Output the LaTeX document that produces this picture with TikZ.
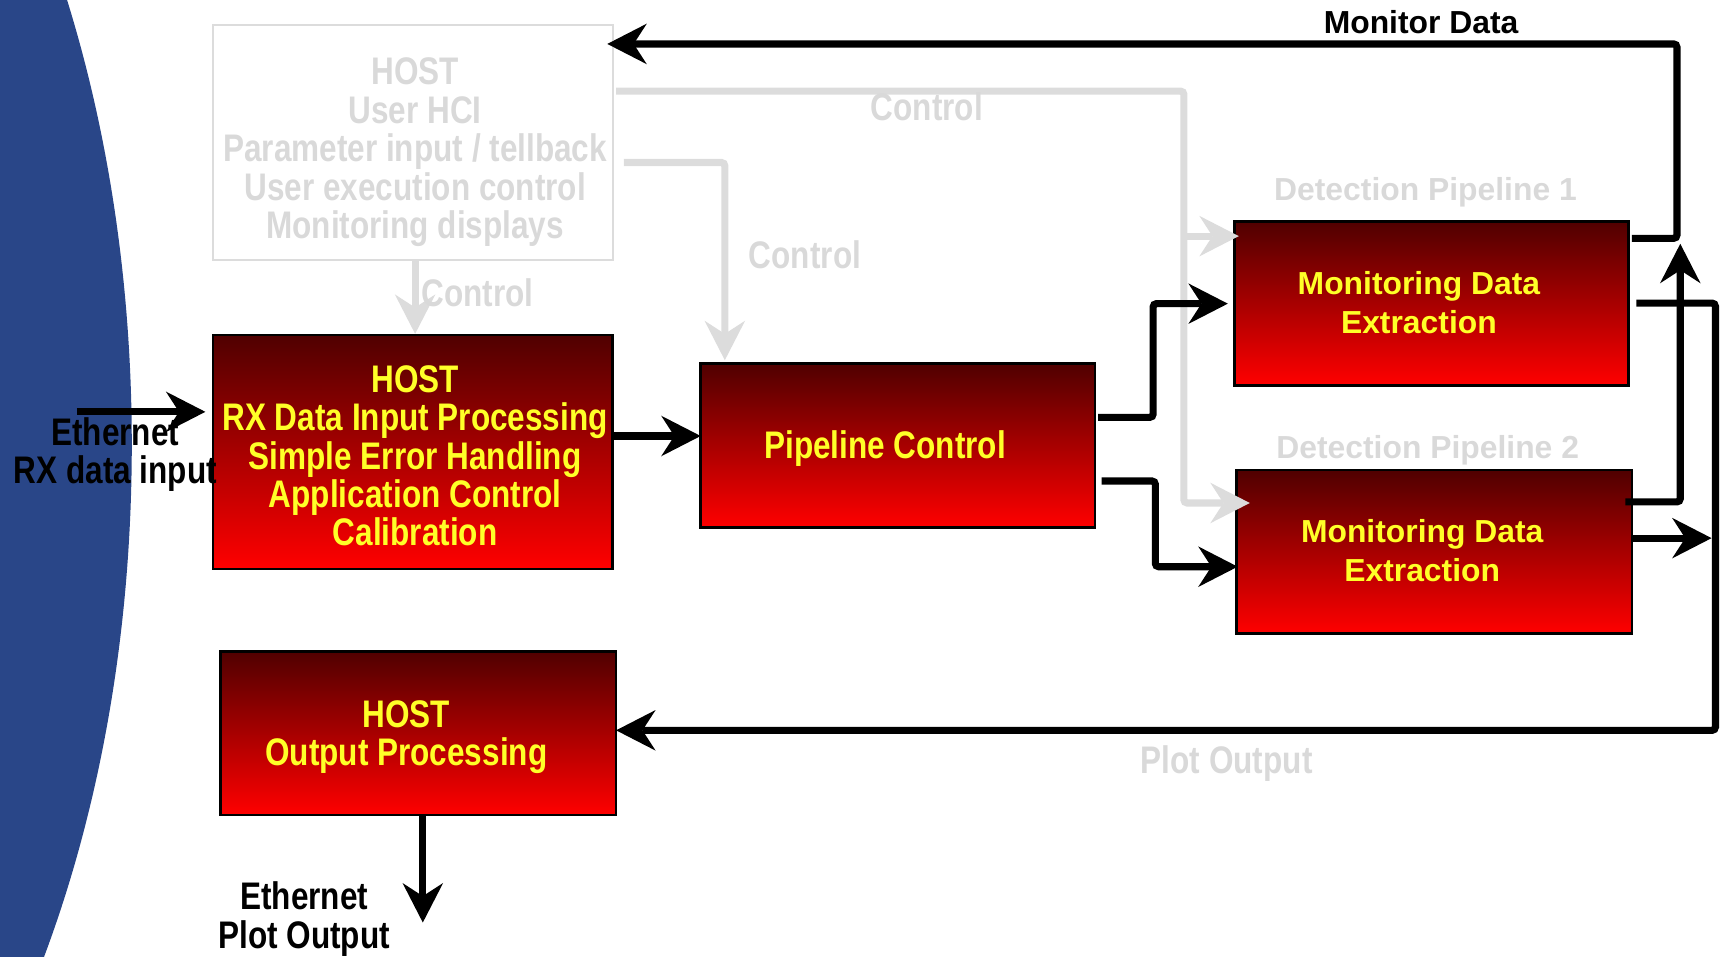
\documentclass[tikz,border=0pt]{standalone}
\usepackage{fontspec}
\setmainfont{Liberation Sans}
\newfontfamily\narrowfont[FakeStretch=0.82]{Liberation Sans}
\usetikzlibrary{arrows.meta,calc}

\definecolor{bgblue}{RGB}{41,70,136}
\definecolor{ctrlgray}{RGB}{220,220,220}
\definecolor{txtgray}{RGB}{217,217,217}
\definecolor{boxtop}{RGB}{80,0,0}
\definecolor{boxbot}{RGB}{255,0,0}
\definecolor{boxyellow}{RGB}{255,255,40}

\tikzset{
  flowbox/.style={rectangle, draw=black, line width=2.5pt, top color=boxtop,
    bottom color=boxbot, inner sep=0pt, outer sep=0pt},
  hcibox/.style={rectangle, draw=ctrlgray, line width=2pt, inner sep=0pt, outer sep=0pt},
  narrowtxt/.style={font=\narrowfont\bfseries\fontsize{35pt}{35pt}\selectfont,
    align=center, inner sep=0pt},
  widetxt/.style={font=\bfseries\fontsize{29pt}{35pt}\selectfont,
    align=center, inner sep=0pt},
  bigtip/.style={-{Stealth[length=36pt,width=37pt,inset=12pt,line width=0pt]}},
  datalink/.style={draw=black, line width=6.5pt, rounded corners=3pt},
  ctrllink/.style={draw=ctrlgray, line width=6.5pt, rounded corners=3pt},
}

\begin{document}
\begin{tikzpicture}[x=1pt, y=-1pt]
\useasboundingbox (0,0) rectangle (1568,871);

% background arc on the left
\begin{scope}
  \clip (0,0) rectangle (1568,871);
  \fill[bgblue] (-400,405) ellipse [x radius=520, y radius=875];
\end{scope}

% blocks
\node[hcibox, minimum width=364pt, minimum height=214pt] (hci) at (376,130) {};
\node[flowbox, minimum width=364pt, minimum height=213pt] (hostin) at (376,411.5) {};
\node[flowbox, minimum width=359pt, minimum height=149pt] (pipe) at (817.5,405.5) {};
\node[flowbox, minimum width=359pt, minimum height=149pt] (mde1) at (1303.5,276.5) {};
\node[flowbox, minimum width=360pt, minimum height=149pt] (mde2) at (1306,502.5) {};
\node[flowbox, minimum width=360pt, minimum height=149pt] (hostout) at (381,667.5) {};

% block texts
\node[narrowtxt, text=txtgray] (hcitext) at (378,138.7)
  {HOST\\User HCI\\Parameter input / tellback\\User execution control\\Monitoring displays};
\node[narrowtxt, text=boxyellow] (hostintext) at (378,415)
  {HOST\\RX Data Input Processing\\Simple Error Handling\\Application Control\\Calibration};
\node[narrowtxt, text=boxyellow] (pipetext) at (806,408.5) {Pipeline Control};
\node[widetxt, text=boxyellow] (mde1text) at (1292,275.4) {Monitoring Data\\Extraction};
\node[widetxt, text=boxyellow] (mde2text) at (1295,501.4) {Monitoring Data\\Extraction};
\node[narrowtxt, text=boxyellow] (hostouttext) at (370,671.2) {HOST\\Output Processing};

% bend points of the long connectors
\coordinate (monbus) at (1527,40);
\coordinate (plotbus) at (1562,665);
\coordinate (uptip) at (1530,222);
\coordinate (ethin) at (70,375);
\coordinate (plottip) at (385,840);

% control connectors
\draw[ctrllink, bigtip] ($(hci.south)+(2,0)$) -- ($(hostin.north)+(2,-1)$);
\draw[ctrllink, bigtip] ($(hci.east)+(10,18)$) -| ($(pipe.north west)+(22,-3)$);
\draw[ctrllink, bigtip] ($(hci.east)+(3,-47)$) -| ($(mde2.west)+(-48,-44.5)$)
  -- ($(mde2.west)+(12,-44.5)$);
\draw[ctrllink, bigtip] ($(mde1.north west)+(-46,13)$) -- ($(mde1.north west)+(4,13)$);

% data connectors
\draw[datalink, bigtip] (ethin) -- ([xshift=-7pt]hostin.west |- ethin);
\draw[datalink, bigtip] ($(hostin.east)+(0,-14.5)$) -- ($(pipe.west)+(0,-8.5)$);
\draw[datalink, bigtip] ($(pipe.east)+(3,-25.5)$) -| ($(mde1.west)+(-74,0)$)
  -- ($(mde1.west)+(-6,0)$);
\draw[datalink, bigtip] ($(pipe.east)+(6,32.5)$) -| ($(mde2.west)+(-74,13.5)$)
  -- ($(mde2.west)+(1,13.5)$);
\draw[datalink, bigtip] ($(mde1.east)+(3,-59.5)$) -| (monbus) -- ([xshift=-5pt]hci.east |- monbus);
\draw[datalink, bigtip] ($(mde2.east)+(-6,-45.5)$) -| (uptip);
\draw[datalink, bigtip] ($(mde1.east)+(7,-0.5)$) -| (plotbus) -- (hostout.east |- plotbus);
\draw[datalink, bigtip] ($(mde2.east)+(0,-12.5)$) -- ($(plotbus |- mde2.east)+(-3.5,-12.5)$);
\draw[datalink, bigtip] ($(hostout.south)+(4,0)$) -- (plottip);

% connector labels
\node[widetxt, anchor=base] (monlabel) at (1294,30.5) {Monitor Data};
\node[widetxt, anchor=base, text=txtgray] (det1label) at (1298,182.5) {Detection Pipeline 1};
\node[widetxt, anchor=base, text=txtgray] (det2label) at (1300,417.5) {Detection Pipeline 2};
\node[narrowtxt, anchor=base, text=txtgray] (ctrl1label) at (844,109.5) {Control};
\node[narrowtxt, anchor=base, text=txtgray] (ctrl2label) at (733,244.5) {Control};
\node[narrowtxt, anchor=base, text=txtgray] (ctrl3label) at (435,279.5) {Control};
\node[narrowtxt, anchor=base, text=txtgray] (plotlabel) at (1117,704.5) {Plot Output};
\node[narrowtxt] (ethinlabel) at (105,414) {Ethernet\\RX data input};
\node[narrowtxt] (ethoutlabel) at (277,837) {Ethernet\\Plot Output};
\end{tikzpicture}
\end{document}
